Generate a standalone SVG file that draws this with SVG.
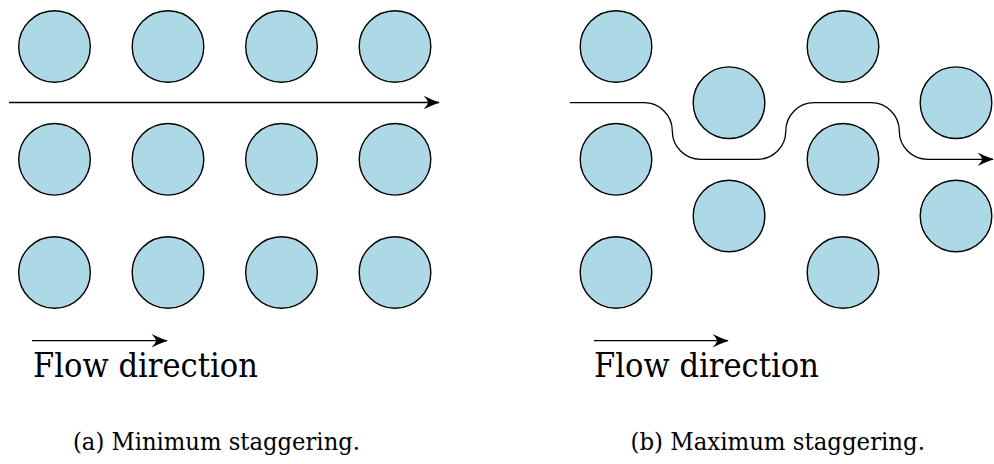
<svg xmlns="http://www.w3.org/2000/svg" width="994" height="464" viewBox="0 0 994 464">
<style>
.c{fill:#ADD8E6;stroke:#000;stroke-width:1.4}
.ln{fill:none;stroke:#000;stroke-width:1.3}
.t{font-family:"DejaVu Serif",serif;fill:#000}
</style>
<defs>
<marker id="ah" markerUnits="userSpaceOnUse" markerWidth="20" markerHeight="16" viewBox="-18 -8 20 16" refX="0" refY="0" orient="auto">
<path d="M0.8,0 Q-7,-2.6 -15.5,-6.8 Q-11,-2 -11,0 Q-11,2 -15.5,6.8 Q-7,2.6 0.8,0 Z" fill="#000"/>
</marker>
</defs>
<g id="panel-a">
<g id="a-r1c1"><circle class="c" cx="54.5" cy="46.5" r="35.8"/></g>
<g id="a-r1c2"><circle class="c" cx="168" cy="46.5" r="35.8"/></g>
<g id="a-r1c3"><circle class="c" cx="281.5" cy="46.5" r="35.8"/></g>
<g id="a-r1c4"><circle class="c" cx="395" cy="46.5" r="35.8"/></g>
<g id="a-r2c1"><circle class="c" cx="54.5" cy="159.3" r="35.8"/></g>
<g id="a-r2c2"><circle class="c" cx="168" cy="159.3" r="35.8"/></g>
<g id="a-r2c3"><circle class="c" cx="281.5" cy="159.3" r="35.8"/></g>
<g id="a-r2c4"><circle class="c" cx="395" cy="159.3" r="35.8"/></g>
<g id="a-r3c1"><circle class="c" cx="54.5" cy="272.5" r="35.8"/></g>
<g id="a-r3c2"><circle class="c" cx="168" cy="272.5" r="35.8"/></g>
<g id="a-r3c3"><circle class="c" cx="281.5" cy="272.5" r="35.8"/></g>
<g id="a-r3c4"><circle class="c" cx="395" cy="272.5" r="35.8"/></g>
<text class="t" x="33" y="377" font-size="33" textLength="225" lengthAdjust="spacingAndGlyphs">Flow direction</text>
<text class="t" x="73" y="450" font-size="24" textLength="287" lengthAdjust="spacingAndGlyphs">(a) Minimum staggering.</text>
</g>
<g id="panel-b">
<g id="b-c1r1"><circle class="c" cx="616" cy="46.5" r="35.8"/></g>
<g id="b-c1r2"><circle class="c" cx="616" cy="159.3" r="35.8"/></g>
<g id="b-c1r3"><circle class="c" cx="616" cy="272.5" r="35.8"/></g>
<g id="b-c2r1"><circle class="c" cx="729" cy="102.7" r="35.8"/></g>
<g id="b-c2r2"><circle class="c" cx="729" cy="216" r="35.8"/></g>
<g id="b-c3r1"><circle class="c" cx="843" cy="46.5" r="35.8"/></g>
<g id="b-c3r2"><circle class="c" cx="843" cy="159.3" r="35.8"/></g>
<g id="b-c3r3"><circle class="c" cx="843" cy="272.5" r="35.8"/></g>
<g id="b-c4r1"><circle class="c" cx="956" cy="102.7" r="35.8"/></g>
<g id="b-c4r2"><circle class="c" cx="956" cy="216" r="35.8"/></g>
<text class="t" x="594" y="377" font-size="33" textLength="225" lengthAdjust="spacingAndGlyphs">Flow direction</text>
<text class="t" x="630.5" y="450" font-size="24" textLength="294.5" lengthAdjust="spacingAndGlyphs">(b) Maximum staggering.</text>
</g>
<g id="connectors">
<line class="ln" x1="9" y1="102.5" x2="439" y2="102.5" marker-end="url(#ah)"/>
<path class="ln" d="M570,102.7 H644 A28.3,28.3 0 0 1 672.3,131 A28.3,28.3 0 0 0 700.6,159.3 H757.5 A28.3,28.3 0 0 0 785.8,131 A28.3,28.3 0 0 1 814.1,102.7 H871 A28.3,28.3 0 0 1 899.3,131 A28.3,28.3 0 0 0 927.6,159.3 H993" marker-end="url(#ah)"/>
<line class="ln" x1="32" y1="340.7" x2="167" y2="340.7" marker-end="url(#ah)"/>
<line class="ln" x1="594" y1="340.7" x2="728" y2="340.7" marker-end="url(#ah)"/>
</g>
</svg>
